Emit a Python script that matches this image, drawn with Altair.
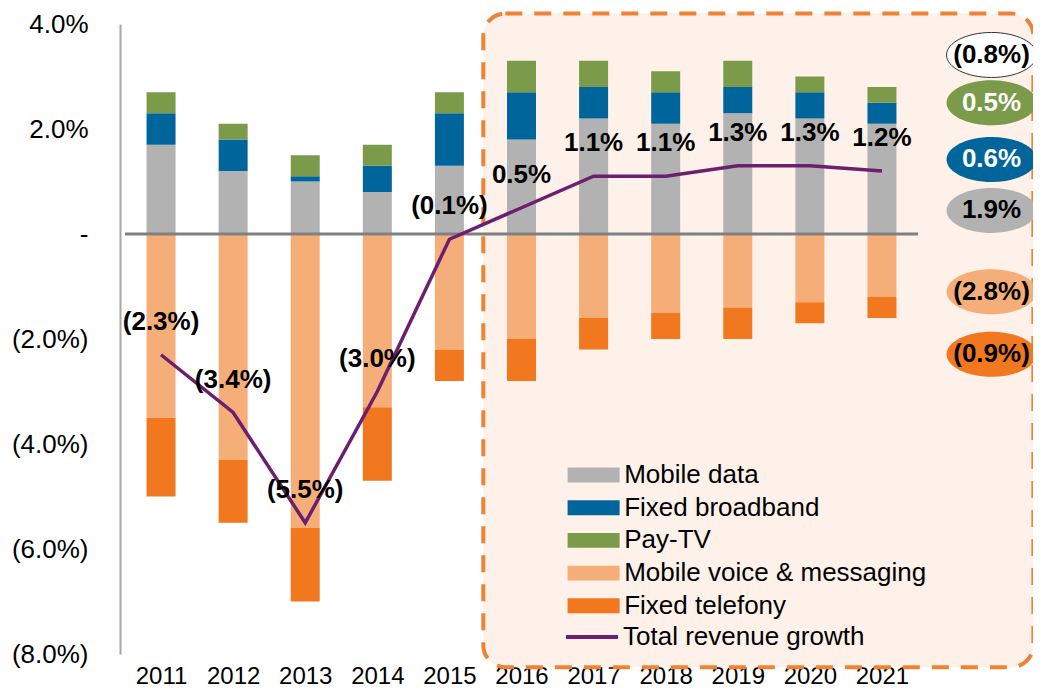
import altair as alt
import pandas as pd

years = list(range(2011, 2022))
series_names = ["Mobile data", "Fixed broadband", "Pay-TV",
                "Mobile voice & messaging", "Fixed telefony"]
series_colors = ["#B2B2B2", "#00659B", "#7B9A4A", "#F6AE78", "#F1781E"]

mobile_data = [1.7, 1.2, 1.0, 0.8, 1.3, 1.8, 2.2, 2.1, 2.3, 2.2, 2.1]
fixed_broadband = [0.6, 0.6, 0.1, 0.5, 1.0, 0.9, 0.6, 0.6, 0.5, 0.5, 0.4]
pay_tv = [0.4, 0.3, 0.4, 0.4, 0.4, 0.6, 0.5, 0.4, 0.5, 0.3, 0.3]
mobile_voice = [-3.5, -4.3, -5.6, -3.3, -2.2, -2.0, -1.6, -1.5, -1.4, -1.3, -1.2]
fixed_telefony = [-1.5, -1.2, -1.4, -1.4, -0.6, -0.8, -0.6, -0.5, -0.6, -0.4, -0.4]
total_growth = [-2.3, -3.4, -5.5, -3.0, -0.1, 0.5, 1.1, 1.1, 1.3, 1.3, 1.2]
line_name = "Total revenue growth"
line_color = "#6B1F6E"

# average growth call-outs at right
avg_series = ["Total", "Pay-TV", "Fixed broadband", "Mobile data",
              "Mobile voice & messaging", "Fixed telefony"]
avg_colors = ["#FFFFFF", "#7B9A4A", "#00659B", "#B2B2B2", "#F6AE78", "#F1781E"]
avg_values = [-0.8, 0.5, 0.6, 1.9, -2.8, -0.9]
avg_y = [3.41, 2.50, 1.42, 0.45, -1.10, -2.29]
avg_x = [2022.52] * 6

# forecast box extent (data units)
box_x = [2015.47, 2023.1]
box_y = [4.2, -8.25]
zero_x = [2010.5, 2021.5]


def pct(v):
    return f"({abs(v):.1f}%)" if v < 0 else f"{v:.1f}%"


all_series = [mobile_data, fixed_broadband, pay_tv, mobile_voice, fixed_telefony]
rows = []
for i, (name, vals) in enumerate(zip(series_names, all_series)):
    for yr, v in zip(years, vals):
        rows.append({"year": yr, "series": name, "value": v, "idx": i})
bars_df = pd.DataFrame(rows)

line_df = pd.DataFrame({"year": years, "value": total_growth,
                        "label": [pct(v) for v in total_growth],
                        "name": [line_name] * len(years)})
avg_df = pd.DataFrame({"x": avg_x, "y": avg_y, "series": avg_series,
                       "label": [pct(v) for v in avg_values]})
box_df = pd.DataFrame({"x1": [box_x[0]], "x2": [box_x[1]],
                       "y1": [box_y[0]], "y2": [box_y[1]]})
zero_df = pd.DataFrame({"x1": [zero_x[0]], "x2": [zero_x[1]], "y": [0]})

xscale = alt.Scale(domain=[2010.5, 2021.5], zero=False, nice=False)
yscale = alt.Scale(domain=[-8, 4], zero=False, nice=False)
xaxis = alt.Axis(values=years, format="d", labelFontSize=24, ticks=False,
                 domain=False, grid=False, labelPadding=10, labelOverlap=False,
                 labelFlush=False, title=None, labelColor="#000000")
yaxis = alt.Axis(values=[-8, -6, -4, -2, 0, 2, 4],
                 labelExpr="datum.value == 0 ? '-' : (datum.value < 0 ? '(' + format(-datum.value, '.1f') + '%)' : format(datum.value, '.1f') + '%')",
                 labelFontSize=26, labelColor="#000000", domainColor="#A6A6A6",
                 domainWidth=2, ticks=False, grid=False, labelPadding=32,
                 title=None)

box = alt.Chart(box_df).mark_rect(
    cornerRadius=22, fill="#FDF1E9", stroke="#EE8433",
    strokeDash=[17, 12], strokeWidth=4
).encode(
    x=alt.X("x1:Q", scale=xscale, axis=xaxis), x2="x2:Q",
    y=alt.Y("y1:Q", scale=yscale, axis=yaxis), y2="y2:Q",
)

bars = alt.Chart(bars_df).mark_bar(size=29).encode(
    x=alt.X("year:Q", scale=xscale, axis=xaxis),
    y=alt.Y("value:Q", stack="zero", scale=yscale, axis=yaxis),
    color=alt.Color("series:N",
                    scale=alt.Scale(domain=series_names, range=series_colors),
                    legend=alt.Legend(orient="none", legendX=460.6, legendY=438,
                                      title=None,
                                      symbolType="M -3.5 -1 H 3.5 V 1 H -3.5 Z",
                                      symbolSize=221, labelFontSize=26,
                                      labelOffset=17.6, rowPadding=6.7,
                                      padding=0, labelLimit=600,
                                      symbolStrokeWidth=0,
                                      labelColor="#000000")),
    order=alt.Order("idx:Q"),
)

zero = alt.Chart(zero_df).mark_rule(color="#808080", strokeWidth=3).encode(
    x=alt.X("x1:Q", scale=xscale, axis=xaxis), x2="x2:Q",
    y=alt.Y("y:Q", scale=yscale, axis=yaxis),
)

line = alt.Chart(line_df).mark_line(strokeWidth=3.5).encode(
    x=alt.X("year:Q", scale=xscale, axis=xaxis),
    y=alt.Y("value:Q", scale=yscale, axis=yaxis),
    stroke=alt.Stroke("name:N",
                      scale=alt.Scale(domain=[line_name], range=[line_color]),
                      legend=alt.Legend(orient="none", legendX=444, legendY=585,
                                        title=None, symbolType="stroke",
                                        symbolSize=2704, symbolStrokeWidth=4,
                                        labelFontSize=26, labelOffset=3,
                                        padding=0, labelLimit=600,
                                        labelColor="#000000")),
)

labels = alt.Chart(line_df).mark_text(
    fontSize=26, fontWeight="bold", dy=-33, color="#000000"
).encode(
    x=alt.X("year:Q", scale=xscale, axis=xaxis),
    y=alt.Y("value:Q", scale=yscale, axis=yaxis),
    text="label:N",
)

ellipse_path = "M -1 0 A 1 0.5 0 1 0 1 0 A 1 0.5 0 1 0 -1 0 Z"
ellipses = alt.Chart(avg_df).mark_point(
    shape=ellipse_path, size=8100, filled=True, opacity=1
).encode(
    x=alt.X("x:Q", scale=xscale, axis=xaxis),
    y=alt.Y("y:Q", scale=yscale, axis=yaxis),
    fill=alt.Fill("series:N",
                  scale=alt.Scale(domain=avg_series, range=avg_colors),
                  legend=None),
    stroke=alt.condition("datum.series == 'Total'", alt.value("#333333"),
                         alt.value("transparent")),
    strokeWidth=alt.value(1),
)

ellipse_text = alt.Chart(avg_df).mark_text(fontSize=26, fontWeight="bold").encode(
    x=alt.X("x:Q", scale=xscale, axis=xaxis),
    y=alt.Y("y:Q", scale=yscale, axis=yaxis),
    text="label:N",
    color=alt.condition(
        "datum.series == 'Pay-TV' || datum.series == 'Fixed broadband'",
        alt.value("#FFFFFF"), alt.value("#000000")),
)

chart = alt.layer(box, bars, zero, line, labels, ellipses, ellipse_text).properties(
    width=803, height=630,
    padding={"left": 112, "top": 16, "right": 110, "bottom": 36},
    autosize=alt.AutoSizeParams(type="none"),
    background="#FFFFFF",
).configure(font="Liberation Sans").configure_view(strokeWidth=0)

chart.save("out.html", embed_options={"renderer": "svg", "actions": False})
